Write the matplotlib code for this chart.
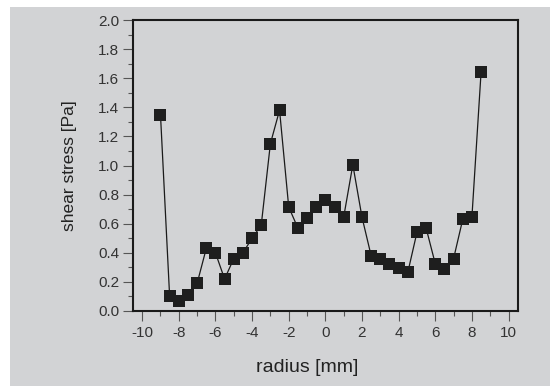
import matplotlib
matplotlib.use("Agg")
import matplotlib.pyplot as plt
from matplotlib.patches import Rectangle
from matplotlib.ticker import MultipleLocator

radius = [-9.0, -8.5, -8.0, -7.5, -7.0, -6.5, -6.0, -5.5, -5.0, -4.5, -4.0, -3.5,
          -3.0, -2.5, -2.0, -1.5, -1.0, -0.5, 0.0, 0.5, 1.0, 1.5, 2.0, 2.5,
          3.0, 3.5, 4.0, 4.5, 5.0, 5.5, 6.0, 6.5, 7.0, 7.5, 8.0, 8.5]
stress = [1.35, 0.10, 0.07, 0.11, 0.19, 0.43, 0.40, 0.22, 0.36, 0.40, 0.50, 0.59,
          1.15, 1.38, 0.715, 0.57, 0.64, 0.715, 0.765, 0.715, 0.645, 1.005, 0.645, 0.38,
          0.355, 0.325, 0.295, 0.265, 0.54, 0.57, 0.325, 0.29, 0.36, 0.63, 0.645, 1.64]

xticks = [-10, -8, -6, -4, -2, 0, 2, 4, 6, 8, 10]
yticks = [0.0, 0.2, 0.4, 0.6, 0.8, 1.0, 1.2, 1.4, 1.6, 1.8, 2.0]

plt.rcParams['font.family'] = ['Liberation Sans', 'DejaVu Sans']
bg = '#d2d3d5'

fig = plt.figure(figsize=(5.5, 3.87), dpi=100)
fig.patch.set_facecolor('white')
fig.patches.append(Rectangle((10 / 550, 1 / 387), 540 / 550, 379 / 387,
                             transform=fig.transFigure, facecolor=bg,
                             edgecolor='none', zorder=-10))

ax = fig.add_axes([133 / 550, 1 - 311 / 387, (517.7 - 133) / 550, (311 - 20) / 387])
ax.set_facecolor(bg)
ax.plot(radius, stress, color='#1a1a1a', linewidth=0.9, marker='s',
        markersize=8.5, markerfacecolor='#1e1e1e', markeredgecolor='#1e1e1e',
        markeredgewidth=0, clip_on=False)

ax.set_xlim(-10.5, 10.5)
ax.set_ylim(0, 2.0)
ax.set_xticks(xticks)
ax.set_yticks(yticks)
ax.set_xticklabels([f"{v:d}" for v in xticks])
ax.set_yticklabels([f"{v:.1f}" for v in yticks])
ax.xaxis.set_minor_locator(MultipleLocator(1))
ax.yaxis.set_minor_locator(MultipleLocator(0.1))

for s in ax.spines.values():
    s.set_linewidth(1.5)
    s.set_color('#1a1a1a')

ax.tick_params(axis='both', which='major', direction='out', length=7,
               width=0.8, color='#555555', labelsize=11, labelcolor='#333333', pad=3)
ax.tick_params(axis='x', which='major', pad=4)
ax.tick_params(axis='both', which='minor', direction='out', length=3.5,
               width=0.8, color='#555555')

ax.set_xlabel('radius [mm]', fontsize=14, color='#222222')
ax.xaxis.set_label_coords((307 - 133) / 384.7, -(367 - 311) / 291.0)
ax.xaxis.label.set_verticalalignment('center')
ax.set_ylabel('shear stress [Pa]', fontsize=12.5, color='#222222', labelpad=15)

fig.savefig('out.png', dpi=100, facecolor='white')
